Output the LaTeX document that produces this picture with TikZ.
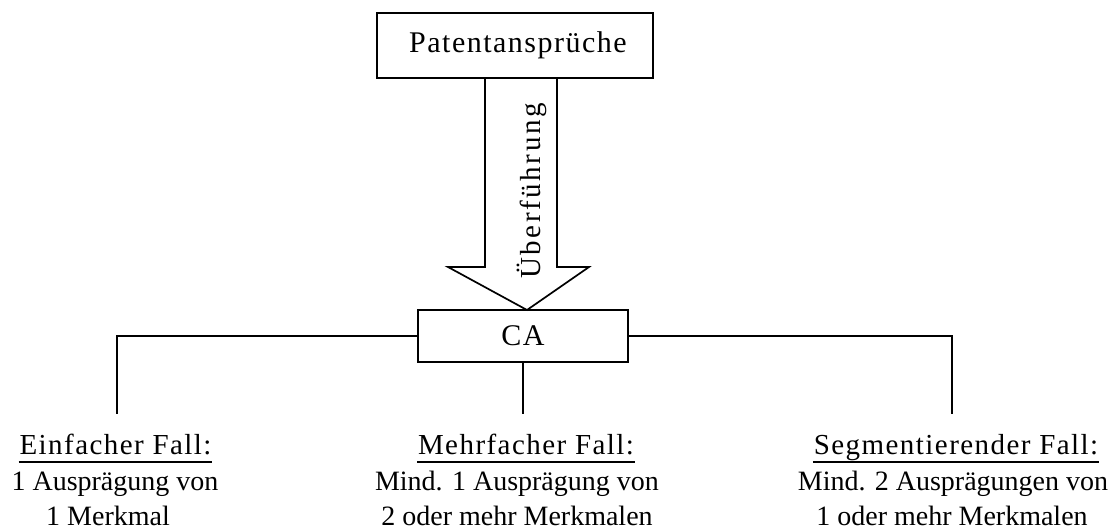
\documentclass[tikz,border=0pt]{standalone}
\usepackage{fontspec}
\setmainfont{Liberation Serif}
\newfontfamily\widefont[LetterSpace=5]{Liberation Serif}
\newfontfamily\widerfont[LetterSpace=9]{Liberation Serif}
\begin{document}
\begin{tikzpicture}[x=1pt,y=-1pt,line width=1.7pt,
  box/.style={draw,inner sep=0pt,font=\widefont\fontsize{30}{35}\selectfont},
  caption/.style={inner sep=0pt,anchor=base,font=\widefont\fontsize{29}{34}\selectfont},
  bodyline/.style={inner sep=0pt,anchor=base,font=\fontsize{28}{33}\selectfont}]
\useasboundingbox (0,0) rectangle (1113,530);

% boxes
\node[box,minimum width=276pt,minimum height=65pt] (pat) at (515,45.5) {\hspace*{6pt}Patentansprüche};
\node[box,minimum width=210pt,minimum height=52pt] (ca) at (523,336) {CA};

% block arrow from the claims box down to CA
\coordinate (tip) at (527,310);
\draw[line join=miter] (pat.south -| 485,0) -- (485,267) -- (448,267) -- (tip)
  -- (589,267) -- (557,267) -- (pat.south -| 557,0);
\node[inner sep=0pt,anchor=base,rotate=90,font=\widerfont\fontsize{29}{34}\selectfont]
  (ueb) at (540,191) {Überführung};

% branch ends
\coordinate (e1) at (117,414);
\coordinate (e2) at (523,414);
\coordinate (e3) at (952,414);
\draw (ca.west) -| (e1);
\draw (ca.south) -- (e2);
\draw (ca.east) -| (e3);

% case captions
\node[caption] (t1) at (115.5,454) {Einfacher Fall:};
\node[caption] (t2) at (526,454) {Mehrfacher Fall:};
\node[caption] (t3) at (956,454) {Segmentierender Fall:};
\foreach \t in {t1,t2,t3}
  \draw[line width=1.5pt] ([yshift=-8pt]\t.base west) -- ([yshift=-8pt]\t.base east);

\node[bodyline] (a1) at (115,490) {1 Ausprägung von};
\node[bodyline] (b1) at (108,525) {1 Merkmal};
\node[bodyline] (a2) at (517,490) {Mind. 1 Ausprägung von};
\node[bodyline] (b2) at (517,525) {2 oder mehr Merkmalen};
\node[bodyline] (a3) at (953,490) {Mind. 2 Ausprägungen von};
\node[bodyline] (b3) at (952,525) {1 oder mehr Merkmalen};
\end{tikzpicture}
\end{document}
